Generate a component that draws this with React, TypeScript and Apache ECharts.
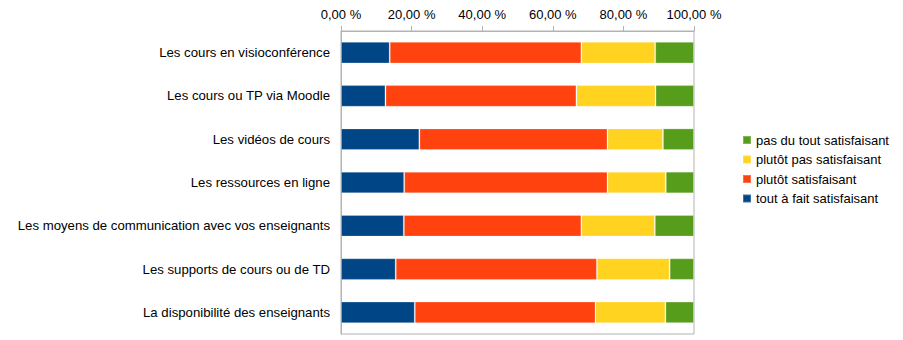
import React, { useEffect, useRef } from "react";
import * as echarts from "echarts";

const categories = [
  "Les cours en visioconférence",
  "Les cours ou TP via Moodle",
  "Les vidéos de cours",
  "Les ressources en ligne",
  "Les moyens de communication avec vos enseignants",
  "Les supports de cours ou de TD",
  "La disponibilité des enseignants",
];

const toutAFait = [13.8, 12.6, 22.2, 17.9, 17.8, 15.5, 20.9];
const plutotSatisfaisant = [54.3, 54.1, 53.3, 57.6, 50.3, 57.0, 51.2];
const plutotPas = [20.9, 22.4, 15.7, 16.5, 20.8, 20.6, 19.8];
const pasDuTout = [11.0, 10.9, 8.8, 8.0, 11.1, 6.9, 8.1];

const seriesNames = [
  "tout à fait satisfaisant",
  "plutôt satisfaisant",
  "plutôt pas satisfaisant",
  "pas du tout satisfaisant",
];
const seriesColors = ["#004586", "#ff420e", "#ffd320", "#579d1c"];
const seriesData = [toutAFait, plutotSatisfaisant, plutotPas, pasDuTout];

const FONT = "'Liberation Sans', Arial, sans-serif";

export default function App() {
  const ref = useRef<HTMLDivElement>(null);
  useEffect(() => {
    if (!ref.current) return;
    const chart = echarts.init(ref.current, null, { renderer: "svg" });
    chart.setOption({
      animation: false,
      textStyle: { fontFamily: FONT },
      grid: {
        left: 341,
        right: 209,
        top: 31,
        bottom: 6,
        show: true,
        borderColor: "#b3b3b3",
        borderWidth: 1,
        containLabel: false,
      },
      legend: {
        orient: "vertical",
        left: 737,
        top: 128,
        padding: 5,
        itemWidth: 8,
        itemHeight: 8,
        itemGap: 5.5,
        icon: "rect",
        data: [seriesNames[3], seriesNames[2], seriesNames[1], seriesNames[0]],
        textStyle: { fontFamily: FONT, fontSize: 13, color: "#000", lineHeight: 14 },
      },
      xAxis: {
        type: "value",
        position: "top",
        min: 0,
        max: 100,
        interval: 20,
        axisLine: { show: true, lineStyle: { color: "#b3b3b3", width: 1 } },
        axisTick: { show: true, length: 5, lineStyle: { color: "#b3b3b3" } },
        splitLine: { show: false },
        axisLabel: {
          fontFamily: FONT,
          fontSize: 13,
          color: "#000",
          margin: 10,
          formatter: (v: number) => v.toFixed(2).replace(".", ",") + " %",
        },
      },
      yAxis: {
        type: "category",
        inverse: true,
        data: categories,
        axisLine: { show: true, lineStyle: { color: "#b3b3b3", width: 1 } },
        axisTick: { show: false },
        axisLabel: { fontFamily: FONT, fontSize: 13.2, color: "#000", margin: 11 },
      },
      series: seriesData.map((d, i) => ({
        name: seriesNames[i],
        type: "bar",
        stack: "total",
        data: d,
        barCategoryGap: "50%",
        itemStyle: {
          color: seriesColors[i],
          borderColor: "rgba(255,255,255,0.25)",
          borderWidth: 1,
        },
      })),
    });
    return () => chart.dispose();
  }, []);
  return (
    <div
      ref={ref}
      style={{ position: "fixed", left: 0, top: 0, width: 903, height: 340, background: "#fff" }}
    />
  );
}
